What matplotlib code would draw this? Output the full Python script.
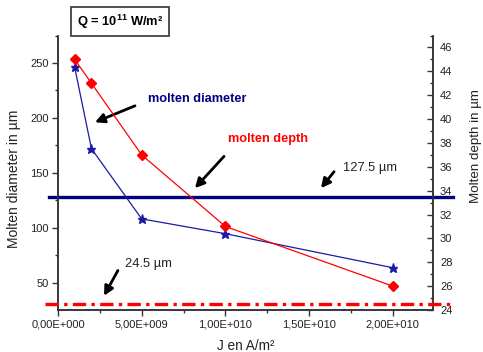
import matplotlib.pyplot as plt

plt.rcParams['font.family'] = ['Liberation Sans', 'DejaVu Sans']
plt.rcParams['mathtext.fontset'] = 'custom'
plt.rcParams['mathtext.rm'] = 'Liberation Sans'
plt.rcParams['mathtext.bf'] = 'Liberation Sans:bold'

# current density J (A/m²)
J = [1e9, 2e9, 5e9, 1e10, 2e10]
# molten diameter (µm), left axis
diameter = [246, 172, 108, 94.5, 63.5]
# molten depth (µm), right axis
depth = [45, 43, 37, 31, 26]
# reference levels
diameter_ref = 127.5
depth_ref = 24.5

xticks = [0, 5e9, 1e10, 1.5e10, 2e10]
xticklabels = ['0,00E+000', '5,00E+009', '1,00E+010', '1,50E+010', '2,00E+010']

navy = '#000080'
blue = '#1a1aa6'
red = '#ff0000'
txt = '#222222'

fig = plt.figure(figsize=(4.83, 3.52), dpi=100)
ax = fig.add_axes([0.120, 0.1193, 0.7765, 0.7797])
ax2 = ax.twinx()

xmin, xmax = 0, 2.24e10
ax.set_xlim(xmin, xmax)
ax.set_ylim(25, 275)
ax2.set_ylim(24, 47)

# horizontal reference lines run a little past both spines
span = xmax - xmin
ax.plot([xmin - 0.024 * span, xmax + 0.053 * span], [diameter_ref] * 2,
        color=navy, lw=2.4, clip_on=False, zorder=3)
ax2.plot([xmin - 0.035 * span, xmax + 0.053 * span], [depth_ref] * 2,
         color=red, lw=2.4, ls=(0, (4, 1.6, 1, 1.6)), clip_on=False, zorder=3)

ax.plot(J, diameter, color=blue, lw=0.9, marker='*', ms=6.5,
        mfc=blue, mec=blue, zorder=4)
ax2.plot(J, depth, color=red, lw=0.9, marker='D', ms=5.5,
         mfc=red, mec=red, zorder=4)

ax.set_xticks(xticks)
ax.set_xticklabels(xticklabels)
ax.set_xticks([2.5e9, 7.5e9, 1.25e10, 1.75e10], minor=True)
ax.set_yticks([50, 100, 150, 200, 250])
ax.set_yticks([75, 125, 175, 225, 275], minor=True)
ax2.set_yticks(range(24, 47, 2))
ax2.set_yticks(range(25, 48, 2), minor=True)

for a in (ax, ax2):
    a.spines['top'].set_visible(False)
    for s in a.spines.values():
        s.set_color('#333333')
        s.set_linewidth(1.1)
ax.tick_params(axis='both', which='major', labelsize=8, length=4, width=1,
               direction='out', colors='#333333', labelcolor=txt, pad=2.5)
ax.tick_params(axis='both', which='minor', length=2.5, width=1,
               direction='out', colors='#333333')
ax2.tick_params(axis='y', which='major', labelsize=8, length=4, width=1,
                direction='in', colors='#333333', labelcolor=txt, pad=5)
ax2.tick_params(axis='y', which='minor', length=2.5, width=1,
                direction='in', colors='#333333')

ax.set_xlabel('J en A/m²', fontsize=9.8, color=txt)
ax.set_ylabel('Molten diameter in µm', fontsize=10, color=txt)
ax2.set_ylabel('Molten depth in µm', fontsize=9.6, color=txt, rotation=90)
ax.xaxis.set_label_coords(0.501, -0.1056)
ax.yaxis.set_label_coords(-0.0987, 0.477)
ax2.yaxis.set_label_coords(1.0987, 0.597)

arrow = dict(arrowstyle='-|>,head_length=0.55,head_width=0.28',
             color='black', lw=2.0, shrinkA=0, shrinkB=0)

ax.annotate('', xy=(2.21e9, 196), xytext=(4.6e9, 211), arrowprops=arrow)
ax.text(5.38e9, 217, 'molten diameter', color=navy, fontsize=9.2,
        fontweight='bold', va='center')

ax.annotate('', xy=(8.18e9, 136), xytext=(9.92e9, 165), arrowprops=arrow)
ax.text(1.015e10, 181, 'molten depth', color=red, fontsize=9.2,
        fontweight='bold', va='center')

ax.annotate('', xy=(1.571e10, 136), xytext=(1.649e10, 151), arrowprops=arrow)
ax.text(1.702e10, 154.5, '127.5 µm', color=txt, fontsize=9.3, va='center')

ax.annotate('', xy=(2.75e9, 38), xytext=(3.58e9, 61), arrowprops=arrow)
ax.text(4.0e9, 67, '24.5 µm', color=txt, fontsize=9.3, va='center')

fig.text(0.2486, 0.939, r'Q = 10$^{\mathbf{11}}$ W/m²', fontsize=9.3,
         fontweight='bold', ha='center', va='center', color='black',
         bbox=dict(boxstyle='square,pad=0.42', fc='white', ec='#333333', lw=1.2))

fig.savefig('out.png', dpi=100)
